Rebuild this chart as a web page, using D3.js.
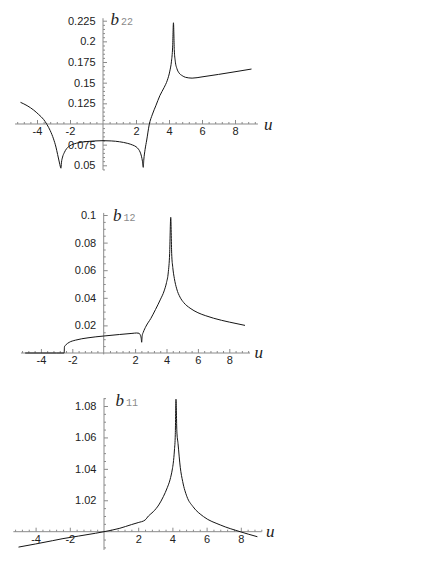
<!DOCTYPE html>
<html>
<head>
<meta charset="utf-8">
<script src="https://cdn.jsdelivr.net/npm/d3@7/dist/d3.min.js"></script>
<style>
  html, body { margin: 0; padding: 0; background: #fff; }
  svg { display: block; }
  .tick text { font-family: "Liberation Sans", Arial, sans-serif; font-size: 11px; fill: #222; }
</style>
</head>
<body>
<svg id="chart" width="436" height="562"></svg>
<script>
// ---------- data ----------
const xTickValues = [-4, -2, 2, 4, 6, 8];
const xTickLabels = ["-4", "-2", "2", "4", "6", "8"];

// b22 panel
const b22U = [-5.0, -4.6, -4.2, -3.9, -3.6, -3.4, -3.2, -3.0, -2.85, -2.75, -2.65, -2.58, -2.55,
  -2.52, -2.45, -2.35, -2.2, -2.0, -1.6, -1.0, -0.5, 0, 0.5, 1.0, 1.5, 1.8, 2.0, 2.15, 2.25, 2.33, 2.39, 2.44,
  2.47, 2.55, 2.65, 2.8, 3.0, 3.2, 3.45, 3.7, 3.9, 4.05, 4.15, 4.22, 4.27,
  4.32, 4.38, 4.48, 4.6, 4.8, 5.0, 5.4, 6.0, 7.0, 8.0, 9.0];
const b22V = [0.1262, 0.1222, 0.1168, 0.1115, 0.1055, 0.0995, 0.0920, 0.0820, 0.0720, 0.0630, 0.0540, 0.0480, 0.0465,
  0.0530, 0.0600, 0.0652, 0.0703, 0.0737, 0.0768, 0.0787, 0.0795, 0.0798, 0.0795, 0.0785, 0.0765, 0.0745, 0.0725, 0.0695, 0.0660, 0.0610, 0.0550, 0.0475,
  0.0560, 0.0690, 0.0806, 0.0990, 0.1120, 0.1220, 0.1345, 0.1440, 0.1530, 0.1640, 0.1760, 0.1930, 0.2225,
  0.1900, 0.1760, 0.1670, 0.1620, 0.1585, 0.1565, 0.1555, 0.1570, 0.1600, 0.1632, 0.1665];
const b22TickValues = [0.05, 0.075, 0.125, 0.15, 0.175, 0.2, 0.225];
const b22TickLabels = ["0.05", "0.075", "0.125", "0.15", "0.175", "0.2", "0.225"];

// b12 panel
const b12U = [-5.0, -4.0, -3.0, -2.52, -2.5, -2.4, -2.2, -1.8, -1.0, 0, 1.0, 1.8, 2.1, 2.25, 2.33, 2.39, 2.42,
  2.45, 2.52, 2.7, 3.0, 3.3, 3.6, 3.85, 4.0, 4.11, 4.2, 4.27,
  4.33, 4.4, 4.5, 4.65, 4.86, 5.1, 5.5, 6.0, 6.5, 7.0, 8.0, 9.0];
const b12V = [0, 0, 0, 0, 0.0045, 0.0060, 0.0077, 0.0093, 0.0110, 0.0123, 0.0134, 0.0142, 0.0145, 0.0143, 0.0130, 0.0105, 0.0078,
  0.0125, 0.0150, 0.0195, 0.0250, 0.0315, 0.0385, 0.0450, 0.0510, 0.0580, 0.0720, 0.0983,
  0.0720, 0.0620, 0.0540, 0.0465, 0.0405, 0.0365, 0.0325, 0.0292, 0.0270, 0.0252, 0.0224, 0.0200];
const b12TickValues = [0.02, 0.04, 0.06, 0.08, 0.1];
const b12TickLabels = ["0.02", "0.04", "0.06", "0.08", "0.1"];

// b11 panel
const b11U = [-5.0, -4.0, -3.0, -2.4, -1.5, -0.5, 0, 0.93, 1.6, 2.0, 2.4, 2.6, 2.88, 3.2, 3.47, 3.7, 3.86, 4.0, 4.05, 4.12, 4.17, 4.21,
  4.26, 4.33, 4.46, 4.6, 4.85, 5.2, 5.82, 6.8, 7.96, 8.97];
const b11V = [0.9902, 0.9922, 0.9943, 0.9956, 0.9972, 0.9990, 1.0, 1.0022, 1.0045, 1.0058, 1.0074, 1.0100, 1.0127, 1.0170, 1.0223, 1.0280, 1.0330, 1.0400, 1.0436, 1.0520, 1.0620, 1.0843,
  1.0640, 1.0560, 1.0410, 1.0320, 1.0223, 1.0160, 1.0096, 1.0043, 1.0000, 0.9968];
const b11TickValues = [1.02, 1.04, 1.06, 1.08];
const b11TickLabels = ["1.02", "1.04", "1.06", "1.08"];

// ---------- drawing ----------
const svg = d3.select("#chart");

function drawPanel(cfg) {
  const x = d3.scaleLinear().domain([-5, 9]).range(cfg.xRange);
  const y = d3.scaleLinear().domain(cfg.yDomain).range(cfg.yRange);
  const g = svg.append("g");
  const axisColor = "#8a8a8a";

  // axis lines
  g.append("line")
    .attr("x1", x(cfg.xExtent[0])).attr("x2", x(cfg.xExtent[1]))
    .attr("y1", y(cfg.xCross)).attr("y2", y(cfg.xCross))
    .attr("stroke", axisColor).attr("stroke-width", 1);
  g.append("line")
    .attr("x1", x(0)).attr("x2", x(0))
    .attr("y1", y(cfg.yExtent[0])).attr("y2", y(cfg.yExtent[1]))
    .attr("stroke", axisColor).attr("stroke-width", 1);

  // x minor ticks
  const xMinor = d3.range(-5.2, 9.4, 0.4).map(v => Math.round(v * 10) / 10)
    .filter(v => v >= cfg.xExtent[0] && v <= cfg.xExtent[1] && Math.abs(v % 2) > 1e-6 && v !== 0);
  const xMinorAxis = d3.axisBottom(x).tickValues(xMinor).tickSize(-2).tickFormat("");
  const gxm = g.append("g").attr("transform", `translate(0,${y(cfg.xCross)})`).call(xMinorAxis);
  gxm.select(".domain").remove();
  gxm.selectAll("line").attr("stroke", axisColor);

  // x major ticks
  const xAxis = d3.axisBottom(x).tickValues(xTickValues).tickSize(-4).tickPadding(3.5)
    .tickFormat((d, i) => xTickLabels[i]);
  const gx = g.append("g").attr("transform", `translate(0,${y(cfg.xCross)})`).call(xAxis);
  gx.select(".domain").remove();
  gx.selectAll("line").attr("stroke", axisColor);

  // y minor ticks
  const yMinor = [];
  const step = cfg.yMinorStep;
  const n0 = Math.ceil(cfg.yExtent[0] / step), n1 = Math.floor(cfg.yExtent[1] / step);
  for (let k = n0; k <= n1; k++) {
    const v = +(k * step).toFixed(6);
    const isMajor = cfg.yTickValues.some(t => Math.abs(t - v) < 1e-7) || Math.abs(v - cfg.xCross) < 1e-7;
    if (!isMajor) yMinor.push(v);
  }
  const yMinorAxis = d3.axisLeft(y).tickValues(yMinor).tickSize(-2).tickFormat("");
  const gym = g.append("g").attr("transform", `translate(${x(0)},0)`).call(yMinorAxis);
  gym.select(".domain").remove();
  gym.selectAll("line").attr("stroke", axisColor);

  // y major ticks
  const yAxis = d3.axisLeft(y).tickValues(cfg.yTickValues).tickSize(-4).tickPadding(7.5)
    .tickFormat((d, i) => cfg.yTickLabels[i]);
  const gy = g.append("g").attr("transform", `translate(${x(0)},0)`).call(yAxis);
  gy.select(".domain").remove();
  gy.selectAll("line").attr("stroke", axisColor);

  // curve
  const pts = cfg.u.map((u, i) => [u, cfg.v[i]]);
  const line = d3.line().x(d => x(d[0])).y(d => y(d[1])).curve(d3.curveMonotoneX);
  g.append("path").attr("d", line(pts))
    .attr("fill", "none").attr("stroke", "#151515").attr("stroke-width", 1)
    .attr("stroke-linejoin", "round");

  // labels
  const lab = g.append("text").attr("x", cfg.bPos[0]).attr("y", cfg.bPos[1]);
  lab.append("tspan")
    .attr("font-family", "'Liberation Serif', 'Times New Roman', serif")
    .attr("font-style", "italic").attr("font-size", 17).attr("fill", "#222")
    .text("b");
  lab.append("tspan")
    .attr("dx", 2)
    .attr("font-family", "'Liberation Mono', 'Courier New', monospace")
    .attr("font-size", 10).attr("fill", "#8a8a8a")
    .text(cfg.sub);

  g.append("text").attr("x", cfg.uPos[0]).attr("y", cfg.uPos[1])
    .attr("font-family", "'Liberation Serif', 'Times New Roman', serif")
    .attr("font-style", "italic").attr("font-size", 17).attr("fill", "#222")
    .text("u");
}

drawPanel({
  u: b22U, v: b22V, sub: "22",
  xRange: [20.5, 251.5], yDomain: [0.05, 0.225], yRange: [165.3, 20.7],
  xCross: 0.1, xExtent: [-5.33, 9.39], yExtent: [0.0444, 0.228], yMinorStep: 0.005,
  yTickValues: b22TickValues, yTickLabels: b22TickLabels,
  bPos: [110.5, 25], uPos: [264, 129.5]
});

drawPanel({
  u: b12U, v: b12V, sub: "12",
  xRange: [25.2, 245], yDomain: [0, 0.1], yRange: [353, 215],
  xCross: 0, xExtent: [-5.27, 9.32], yExtent: [-0.001, 0.1015], yMinorStep: 0.005,
  yTickValues: b12TickValues, yTickLabels: b12TickLabels,
  bPos: [113, 221], uPos: [254.5, 358.3]
});

drawPanel({
  u: b11U, v: b11V, sub: "11",
  xRange: [18.5, 257.9], yDomain: [1, 1.08], yRange: [531.7, 406],
  xCross: 1, xExtent: [-5.3, 9.22], yExtent: [0.9884, 1.085], yMinorStep: 0.005,
  yTickValues: b11TickValues, yTickLabels: b11TickLabels,
  bPos: [115.5, 405.7], uPos: [266, 537]
});
</script>
</body>
</html>
